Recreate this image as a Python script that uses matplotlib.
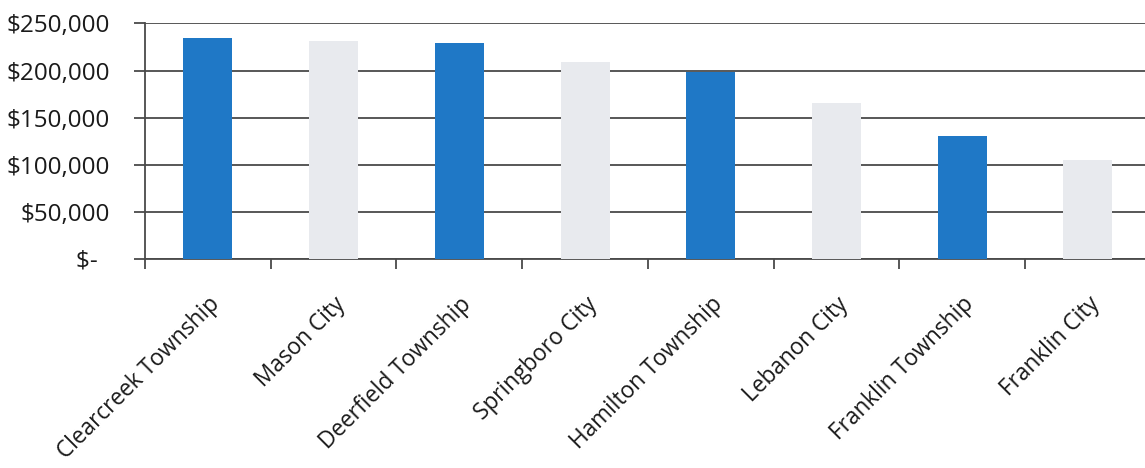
"""Median home value by community, bar chart."""

import matplotlib.pyplot as plt
from matplotlib.ticker import FixedLocator, FuncFormatter

communities = [
    "Clearcreek Township",
    "Mason City",
    "Deerfield Township",
    "Springboro City",
    "Hamilton Township",
    "Lebanon City",
    "Franklin Township",
    "Franklin City",
]
values = [234000, 231000, 229500, 209000, 198500, 165500, 131000, 105000]

BLUE = "#1f78c6"
GRAY = "#e8eaee"
GRID = "#4a4a4a"


def money(v, _pos):
    # accounting style: zero shows as a dash, padded on the right
    if v == 0:
        return "$-  "
    return f"${v:,.0f}"


def main() -> None:
    plt.rcParams["font.family"] = ["Open Sans", "DejaVu Sans"]
    fig = plt.figure(figsize=(11.45, 4.68), dpi=100)
    ax = fig.add_axes([0.1266, 0.4466, 0.8785, 0.5034])

    xs = list(range(len(communities)))
    colors = [BLUE if i % 2 == 0 else GRAY for i in xs]
    ax.bar(xs, values, width=0.39, color=colors, zorder=3)

    ax.set_xlim(-0.5, len(communities) - 0.5)
    ax.set_ylim(0, 250000)
    ax.set_yticks(range(0, 250001, 50000))
    ax.yaxis.set_major_formatter(FuncFormatter(money))
    ax.grid(axis="y", color=GRID, linewidth=1.3, zorder=1)

    ax.set_xticks(xs)
    ax.set_xticklabels(communities, rotation=45, ha="right", rotation_mode="anchor")
    ax.tick_params(axis="x", which="major", length=0, pad=24, labelsize=16.3,
                   labelcolor="#1a1a1a")
    ax.xaxis.set_minor_locator(FixedLocator([i - 0.5 for i in range(len(communities) + 1)]))
    ax.tick_params(axis="x", which="minor", length=7, width=1.3, color=GRID)
    ax.tick_params(axis="y", length=8, width=1.3, color=GRID, labelsize=17.5,
                   labelcolor="#1a1a1a", pad=17)

    for side in ("top", "right"):
        ax.spines[side].set_visible(False)
    for side in ("left", "bottom"):
        ax.spines[side].set_color(GRID)
        ax.spines[side].set_linewidth(1.3)

    fig.savefig("out.png", dpi=100)
    plt.close(fig)


if __name__ == "__main__":
    main()
